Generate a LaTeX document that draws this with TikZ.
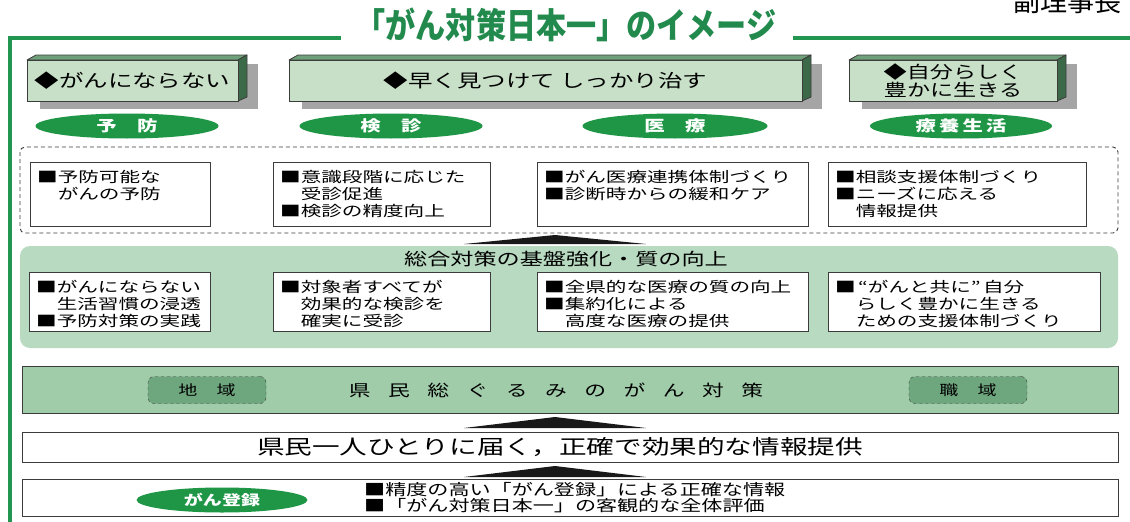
\documentclass[tikz,border=0pt]{standalone}
\usepackage{fontspec}
\usetikzlibrary{shapes.geometric}
\newfontfamily\jp[FakeStretch=1.36]{Noto Sans CJK JP}
\newfontfamily\jpr[FakeStretch=1.42]{Noto Sans CJK JP}
\newfontfamily\jpt[FakeStretch=0.86]{Noto Sans CJK JP}
\newfontfamily\jpn{Noto Sans CJK JP}
\definecolor{framegreen}{RGB}{34,150,80}
\definecolor{titlegreen}{RGB}{35,138,78}
\definecolor{boxfrontc}{RGB}{200,224,200}
\definecolor{boxtopc}{RGB}{112,160,122}
\definecolor{boxsidec}{RGB}{60,105,72}
\definecolor{shadowc}{RGB}{165,165,165}
\definecolor{pillc}{RGB}{30,150,70}
\definecolor{band1c}{RGB}{184,218,192}
\definecolor{band2c}{RGB}{160,204,170}
\definecolor{tagc}{RGB}{110,166,126}
\definecolor{edgec}{RGB}{60,60,60}
\definecolor{wedgec}{RGB}{25,25,25}
\tikzset{
  frameline/.style={framegreen, line width=3.2pt},
  titletext/.style={text=titlegreen, font=\jpt\bfseries\fontsize{35}{40}\selectfont, inner sep=0},
  boxtopf/.style={fill=boxtopc, draw=edgec, line width=0.8pt, line join=round},
  boxsidef/.style={fill=boxsidec, draw=edgec, line width=0.8pt, line join=round},
  boxfrontf/.style={fill=boxfrontc, draw=edgec, line width=0.8pt},
  toptext/.style={font=\jp\fontsize{18}{18}\selectfont, inner sep=0, align=center},
  pill/.style={ellipse, fill=pillc, text=white, inner sep=0, minimum height=25,
    font=\jp\bfseries\fontsize{15}{15}\selectfont},
  rboxs/.style={draw=edgec, fill=white, line width=0.8pt, inner sep=0},
  rtext/.style={font=\jpr\fontsize{14.5}{17}\selectfont, align=left, inner sep=0},
  tag/.style={draw=edgec, dashed, fill=tagc, rounded corners=6, minimum width=118,
    minimum height=27, inner sep=0, font=\jp\fontsize{14}{14}\selectfont},
  wedge/.style={fill=wedgec},
  plainbox/.style={draw=edgec, fill=white, line width=0.8pt},
}
\newcommand\tdbox[5]{%
  \fill[shadowc] (#2+13,#3+4) rectangle (#4+20,#5+8);
  \filldraw[boxtopf] (#2,#3) -- (#2+9,#3-5) -- (#4+9,#3-5) -- (#4,#3) -- cycle;
  \filldraw[boxsidef] (#4,#3) -- (#4+9,#3-5) -- (#4+9,#5-4) -- (#4,#5) -- cycle;
  \filldraw[boxfrontf] (#2,#3) rectangle (#4,#5);
  \coordinate (#1) at ({(#2+#4)/2},{(#3+#5)/2});
}
\newcommand\rbox[6]{%
  \node[rboxs, minimum width={#4-#2}, minimum height={#5-#3}, anchor=north west] (#1) at (#2,#3) {};
  \node[rtext, anchor=north west] (#1t) at (#2+7,#3+8) {#6};
}
\newcommand\bgap{\hspace{17.5pt}}
\begin{document}
\begin{tikzpicture}[x=1pt,y=-1pt]
\useasboundingbox (0,0) rectangle (1130,522);
\fill[white] (0,0) rectangle (1130,522);

% frame lines
\draw[frameline] (10,523) -- (10,38) -- (341,38);
\draw[frameline] (793,38) -- (1131,38);

% title
\node[titletext] (title) at (566,25) {「がん対策日本一」のイメージ};
\node[font=\jpn\fontsize{27}{27}\selectfont, inner sep=0, anchor=base west] (vp) at (1013,12) {副理事長};

% 3D boxes
\tdbox{b1}{27}{60}{238}{101}
\tdbox{b2}{289}{60}{802}{101}
\tdbox{b3}{849}{60}{1057}{101}
\node[toptext] (b1t) at (b1) {◆がんにならない};
\node[toptext] (b2t) at (b2) {◆早く見つけて しっかり治す};
\node[toptext, font=\jp\fontsize{17}{18}\selectfont] (b3t) at (b3) {◆自分らしく\\豊かに生きる};

% pills
\node[pill, minimum width=183] (e1) at (127,126) {予　防};
\node[pill, minimum width=183] (e2) at (391,126) {検　診};
\node[pill, minimum width=185] (e3) at (675,126) {医　療};
\node[pill, minimum width=182] (e4) at (961,126) {療\hspace{3pt}養\hspace{3pt}生\hspace{3pt}活};

% dashed area
\draw[edgec, dash pattern=on 4pt off 3pt, line width=0.9pt, rounded corners=5] (20,147) rectangle (1118,233);
\rbox{r1a}{30}{162}{210}{226}{■予防可能な\\　がんの予防}
\rbox{r1b}{273}{162}{490}{226}{■意識段階に応じた\\　受診促進\\■検診の精度向上}
\rbox{r1c}{537}{162}{808}{226}{■がん医療連携体制づくり\\■診断時からの緩和ケア}
\rbox{r1d}{828}{162}{1086}{226}{■相談支援体制づくり\\■ニーズに応える\\　情報提供}

% wedge 1
\coordinate (w1) at (555,235);
\fill[wedge] (464,244) -- (w1) -- (646,244) -- cycle;

% band 1
\fill[band1c, rounded corners=10] (20,246) rectangle (1118,348);
\node[font=\jp\fontsize{17}{17}\selectfont, inner sep=0] (band1t) at (566,259) {総合対策の基盤強化・質の向上};
\rbox{r2a}{29}{272}{210}{331}{■がんにならない\\　生活習慣の浸透\\■予防対策の実践}
\rbox{r2b}{273}{272}{490}{331}{■対象者すべてが\\　効果的な検診を\\　確実に受診}
\rbox{r2c}{537}{272}{808}{331}{■全県的な医療の質の向上\\■集約化による\\　高度な医療の提供}
\rbox{r2d}{828}{272}{1100}{331}{■\,“がんと共に”\,自分\\　らしく豊かに生きる\\　ための支援体制づくり}

% band 2
\filldraw[fill=band2c, draw=edgec, line width=0.8pt] (22,366) rectangle (1118,413);
\node[tag] (tag1) at (207,390) {地　域};
\node[tag] (tag2) at (968,390) {職　域};
\node[font=\jp\fontsize{16}{16}\selectfont, inner sep=0] (band2t) at (556,390)
  {県\bgap 民\bgap 総\bgap ぐ\bgap る\bgap み\bgap の\bgap が\bgap ん\bgap 対\bgap 策};

% wedge 2
\coordinate (w2) at (555,417);
\fill[wedge] (464,428) -- (w2) -- (646,428) -- cycle;

% info box
\filldraw[plainbox] (22,432) rectangle (1118,462);
\node[font=\jp\fontsize{20.3}{20.3}\selectfont, inner sep=0] (infot) at (560,447) {県民一人ひとりに届く，正確で効果的な情報提供};

% wedge 3
\coordinate (w3) at (555,466);
\fill[wedge] (464,477) -- (w3) -- (646,477) -- cycle;

% bottom box
\filldraw[plainbox] (22,479) rectangle (1118,516);
\node[pill, minimum width=171, minimum height=25, font=\jp\bfseries\fontsize{14}{14}\selectfont] (e5) at (222,500) {がん登録};
\node[font=\jp\fontsize{15.5}{16}\selectfont, inner sep=0, align=left, anchor=west] (bott) at (364,498)
  {■精度の高い「がん登録」による正確な情報\\■「がん対策日本一」の客観的な全体評価};
\end{tikzpicture}
\end{document}
